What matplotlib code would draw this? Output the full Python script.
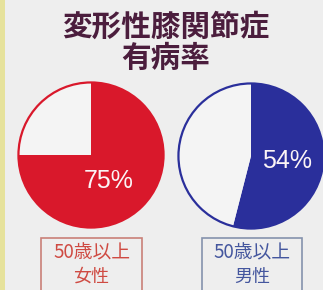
import matplotlib
matplotlib.use("Agg")
import matplotlib.pyplot as plt
from matplotlib.patches import Rectangle, Circle

# data
title_lines = ["変形性膝関節症", "有病率"]
groups = ["50歳以上\n女性", "50歳以上\n男性"]
rates = [75, 54]
colors = ["#d9182b", "#2a2f9b"]
label_colors = ["#cf4a42", "#44569e"]
box_colors = ["#c98078", "#8592ad"]

W, H = 323, 290
fig = plt.figure(figsize=(W / 100, H / 100), dpi=100)
fig.patch.set_facecolor("#eeeeee")

# yellowish left strip
fig.patches.append(Rectangle((0, 0), 5 / W, 1, transform=fig.transFigure,
                             facecolor="#e6e29c", edgecolor="none", zorder=0))

cjk = ["Noto Sans CJK JP", "DejaVu Sans"]
fig.text(166 / W, 1 - 27 / H, title_lines[0], ha="center", va="center",
         fontsize=21.3, fontweight="bold", color="#4b1d3d", family=cjk)
fig.text(166 / W, 1 - 58 / H, title_lines[1], ha="center", va="center",
         fontsize=21.3, fontweight="bold", color="#4b1d3d", family=cjk)

centers = [(91, 155), (251, 156)]
r = 74
pct_pos = [(109, 181), (287, 161)]
box_x = [(41, 142), (202, 302)]

for i in range(2):
    cx, cy = centers[i]
    ax = fig.add_axes([(cx - r) / W, 1 - (cy + r) / H, 2 * r / W, 2 * r / H])
    ax.pie([rates[i], 100 - rates[i]], colors=[colors[i], "#f4f4f4"],
           startangle=90, counterclock=False, radius=1,
           wedgeprops=dict(linewidth=0))
    ax.add_patch(Circle((0, 0), 1, fill=False, edgecolor=colors[i], linewidth=1.6))
    ax.set_xlim(-1.02, 1.02)
    ax.set_ylim(-1.02, 1.02)
    ax.set_aspect("equal")
    ax.axis("off")

    px, py = pct_pos[i]
    fig.text(px / W, 1 - py / H, f"{rates[i]}%", ha="center", va="center",
             fontsize=18, color="#fbf4f6", family="Liberation Sans")

    x0, x1 = box_x[i]
    fig.patches.append(Rectangle((x0 / W, -0.05), (x1 - x0) / W, 1.05 - 238 / H,
                                 transform=fig.transFigure, facecolor="none",
                                 edgecolor=box_colors[i], linewidth=1.2))
    line1, line2 = groups[i].split("\n")
    fig.text((x0 + x1) / 2 / W, 1 - 253 / H, line1, ha="center", va="center",
             fontsize=13.5, color=label_colors[i], family=cjk)
    fig.text((x0 + x1) / 2 / W, 1 - 277 / H, line2, ha="center", va="center",
             fontsize=13, color=label_colors[i], family=cjk)

fig.savefig("out.png", dpi=100, facecolor=fig.get_facecolor())
